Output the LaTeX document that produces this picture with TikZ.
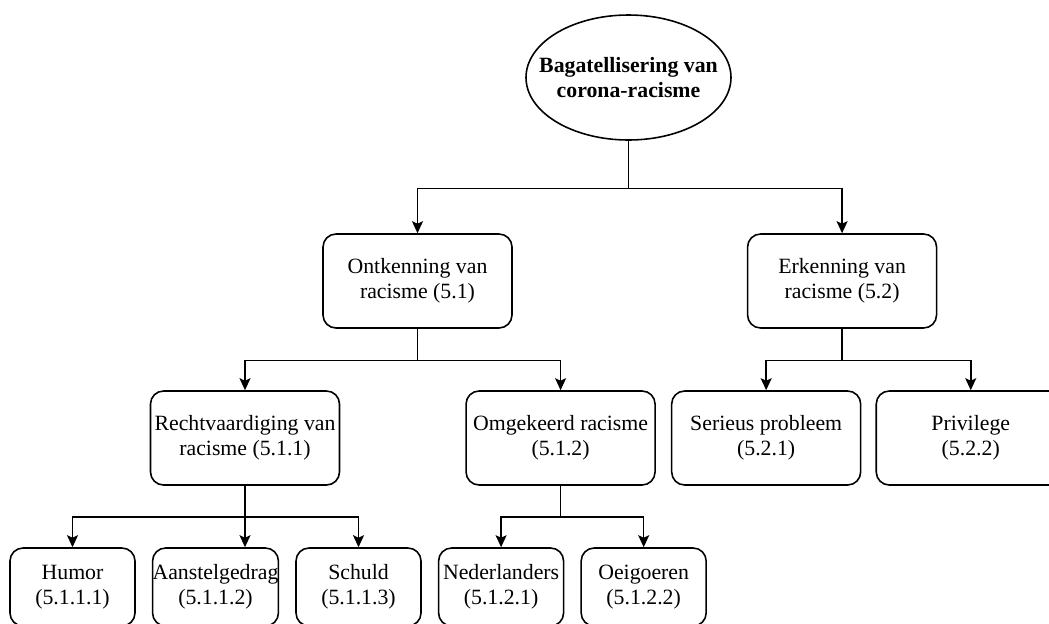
\documentclass[tikz,border=0pt]{standalone}
\usepackage{fontspec}
\setmainfont{Liberation Serif}
\usetikzlibrary{shapes.geometric,arrows.meta,positioning}

\begin{document}
\begin{tikzpicture}[
    font=\fontsize{12.4}{14.2}\selectfont,
    rootnode/.style={
        ellipse,
        draw=black,
        line width=0.9pt,
        minimum width=4.1cm,
        minimum height=2.5cm,
        inner xsep=-0.35cm,
        inner ysep=0pt,
        align=center,
        font=\fontsize{12.4}{14.2}\selectfont\bfseries,
    },
    topicbox/.style={
        rectangle,
        rounded corners=0.26cm,
        draw=black,
        line width=0.9pt,
        minimum width=#1,
        minimum height=1.88cm,
        inner sep=2pt,
        align=center,
    },
    topicbox/.default=3.78cm,
    leafbox/.style={
        topicbox=2.5cm,
        minimum height=1.56cm,
        inner xsep=0pt,
    },
    arrow/.style={
        -{Stealth[length=0.24cm, width=0.22cm, inset=0.05cm]},
        line width=0.9pt,
    },
]
\useasboundingbox (0,0) rectangle (20.98,-12.46);

% === Root ===
\node[rootnode] (root) at (12.57, -1.55) {Bagatellisering van\\corona-racisme};

% === Level 1 ===
\node[topicbox] (ont) at (8.35, -5.62) {Ontkenning van\\racisme (5.1)};
\node[topicbox, right=4.68cm of ont] (erk) {Erkenning van\\racisme (5.2)};

% === Level 2 ===
\node[topicbox] (rech) at (4.9, -8.76) {Rechtvaardiging van\\racisme (5.1.1)};
\node[topicbox, right=2.5cm of rech] (omg) {Omgekeerd racisme\\(5.1.2)};
\node[topicbox, right=0.3cm of omg] (ser) {Serieus probleem\\(5.2.1)};
\node[topicbox, right=0.28cm of ser] (pri) {Privilege\\(5.2.2)};

% === Level 3 ===
\node[leafbox] (hum) at (1.45, -11.74) {Humor\\(5.1.1.1)};
\node[leafbox, right=0.32cm of hum] (aan) {Aanstelgedrag\\(5.1.1.2)};
\node[leafbox, right=0.32cm of aan] (sch) {Schuld\\(5.1.1.3)};
\node[leafbox, right=0.32cm of sch] (ned) {Nederlanders\\(5.1.2.1)};
\node[leafbox, right=0.32cm of ned] (oei) {Oeigoeren\\(5.1.2.2)};

% === Arrows ===
\draw[arrow] (root.south) -- ++(0,-0.95) -| (ont.north);
\draw[arrow] (root.south) -- ++(0,-0.95) -| (erk.north);

\draw[arrow] (ont.south) -- ++(0,-0.63) -| (rech.north);
\draw[arrow] (ont.south) -- ++(0,-0.63) -| (omg.north);
\draw[arrow] (erk.south) -- ++(0,-0.63) -| (ser.north);
\draw[arrow] (erk.south) -- ++(0,-0.63) -| (pri.north);

\draw[arrow] (rech.south) -- ++(0,-0.62) -| (hum.north);
\draw[arrow] (rech.south) -- (rech.south |- aan.north);
\draw[arrow] (rech.south) -- ++(0,-0.62) -| (sch.north);
\draw[arrow] (omg.south) -- ++(0,-0.62) -| (ned.north);
\draw[arrow] (omg.south) -- ++(0,-0.62) -| (oei.north);

\end{tikzpicture}
\end{document}
